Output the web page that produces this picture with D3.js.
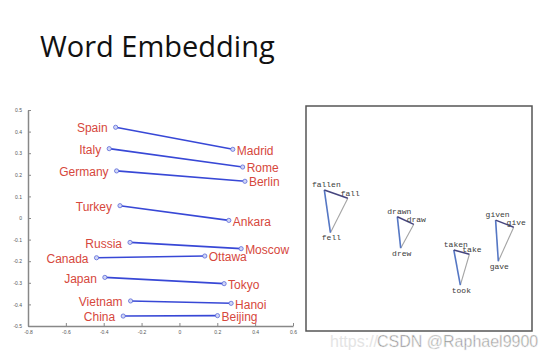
<!DOCTYPE html>
<html>
<head>
<meta charset="utf-8">
<script src="https://cdn.jsdelivr.net/npm/d3@7"></script>
<style>
  body { margin: 0; background: #fff; }
  svg { display: block; }
  .tick text { fill: #555; font-family: "Liberation Sans", Arial, sans-serif; }
</style>
</head>
<body>
<svg id="chart"></svg>
<script>
// country -> capital (left panel)
var countries = ["Spain", "Italy", "Germany", "Turkey", "Russia", "Canada", "Japan", "Vietnam", "China"];
var countryX = [-0.337, -0.371, -0.332, -0.314, -0.261, -0.438, -0.394, -0.258, -0.297];
var countryY = [0.420, 0.321, 0.218, 0.057, -0.113, -0.184, -0.275, -0.384, -0.454];
var capitals = ["Madrid", "Rome", "Berlin", "Ankara", "Moscow", "Ottawa", "Tokyo", "Hanoi", "Beijing"];
var capitalX = [0.282, 0.334, 0.346, 0.261, 0.326, 0.134, 0.236, 0.273, 0.201];
var capitalY = [0.318, 0.236, 0.170, -0.011, -0.142, -0.176, -0.304, -0.395, -0.452];

var xTicks = [-0.8, -0.6, -0.4, -0.2, 0, 0.2, 0.4, 0.6];
var xTickLabels = ["-0.8", "-0.6", "-0.4", "-0.2", "0", "0.2", "0.4", "0.6"];
var yTicks = [-0.5, -0.4, -0.3, -0.2, -0.1, 0, 0.1, 0.2, 0.3, 0.4, 0.5];
var yTickLabels = ["-0.5", "-0.4", "-0.3", "-0.2", "-0.1", "0", "0.1", "0.2", "0.3", "0.4", "0.5"];

// verb tenses (right panel), coords on a 0..100 grid
var verbParticiple = ["fallen", "drawn", "taken", "given"];
var participleX = [8.1, 40.4, 65.4, 83.9];
var participleY = [62.7, 50.8, 36.0, 49.3];
var verbBase = ["fall", "draw", "take", "give"];
var baseX = [18.5, 47.7, 72.3, 91.9];
var baseY = [59.0, 47.4, 34.1, 46.1];
var verbPast = ["fell", "drew", "took", "gave"];
var pastX = [10.8, 41.9, 68.3, 85.1];
var pastY = [43.7, 36.8, 20.4, 31.0];

var width = 554, height = 358;
var svg = d3.select("#chart").attr("width", width).attr("height", height);

svg.append("text")
  .attr("x", 40).attr("y", 57)
  .style("font-family", "'Open Sans', sans-serif")
  .style("font-size", "29px")
  .style("fill", "#111")
  .text("Word Embedding");

// ---- left panel ----
var x = d3.scaleLinear().domain([-0.8, 0.6]).range([28, 293]);
var y = d3.scaleLinear().domain([-0.5, 0.5]).range([326, 110]);

var yAxis = d3.axisLeft(y)
  .tickValues(yTicks)
  .tickFormat(function(d, i) { return yTickLabels[i]; })
  .tickSizeInner(-3).tickSizeOuter(0).tickPadding(6);
var xAxis = d3.axisBottom(x)
  .tickValues(xTicks)
  .tickFormat(function(d, i) { return xTickLabels[i]; })
  .tickSizeInner(-3).tickSizeOuter(0).tickPadding(4);

var gy = svg.append("g").attr("transform", "translate(" + x(-0.8) + ",0)").call(yAxis);
var gx = svg.append("g").attr("transform", "translate(0," + y(-0.5) + ")").call(xAxis);
[gy, gx].forEach(function(g) {
  g.select(".domain").attr("stroke", "#888").attr("stroke-width", 1.5);
  g.selectAll(".tick line").attr("stroke", "#888");
  g.selectAll(".tick text").style("font-size", "5px");
});

var pairs = countries.map(function(c, i) {
  return { country: c, cx: countryX[i], cy: countryY[i],
           capital: capitals[i], kx: capitalX[i], ky: capitalY[i] };
});

svg.append("g").selectAll("line")
  .data(pairs).enter().append("line")
  .attr("x1", function(d) { return x(d.cx); })
  .attr("y1", function(d) { return y(d.cy); })
  .attr("x2", function(d) { return x(d.kx); })
  .attr("y2", function(d) { return y(d.ky); })
  .attr("stroke", "#3848d6")
  .attr("stroke-width", 1.6);

var dots = svg.append("g");
dots.selectAll("circle.c").data(pairs).enter().append("circle")
  .attr("cx", function(d) { return x(d.cx); })
  .attr("cy", function(d) { return y(d.cy); });
dots.selectAll("circle.k").data(pairs).enter().append("circle")
  .attr("cx", function(d) { return x(d.kx); })
  .attr("cy", function(d) { return y(d.ky); });
dots.selectAll("circle")
  .attr("r", 2.1)
  .attr("fill", "#d0d6f6")
  .attr("stroke", "#5a68d8")
  .attr("stroke-width", 0.8);

var labels = svg.append("g")
  .style("font-family", "'Liberation Sans', Arial, sans-serif")
  .style("font-size", "12px")
  .style("fill", "#d6473c");
labels.selectAll("text.c").data(pairs).enter().append("text")
  .attr("x", function(d) { return x(d.cx) - 8; })
  .attr("y", function(d) { return y(d.cy) + 1; })
  .attr("dy", "0.35em")
  .attr("text-anchor", "end")
  .text(function(d) { return d.country; });
labels.selectAll("text.k").data(pairs).enter().append("text")
  .attr("x", function(d) { return x(d.kx) + 4; })
  .attr("y", function(d) { return y(d.ky) + 1; })
  .attr("dy", "0.35em")
  .text(function(d) { return d.capital; });

// ---- right panel ----
var rx = d3.scaleLinear().domain([0, 100]).range([306, 532]);
var ry = d3.scaleLinear().domain([0, 100]).range([331, 106]);

svg.append("rect")
  .attr("x", rx(0)).attr("y", ry(100))
  .attr("width", rx(100) - rx(0)).attr("height", ry(0) - ry(100))
  .attr("fill", "none").attr("stroke", "#555").attr("stroke-width", 1.5);

var verbs = verbBase.map(function(b, i) {
  return {
    en: verbParticiple[i], ex: participleX[i], ey: participleY[i],
    b: b, bx: baseX[i], by: baseY[i],
    p: verbPast[i], px: pastX[i], py: pastY[i]
  };
});

var tri = svg.append("g").selectAll("g").data(verbs).enter().append("g");
tri.append("line")
  .attr("x1", function(d) { return rx(d.bx); }).attr("y1", function(d) { return ry(d.by); })
  .attr("x2", function(d) { return rx(d.px); }).attr("y2", function(d) { return ry(d.py); })
  .attr("stroke", "#a4a4a4").attr("stroke-width", 1.1);
tri.append("line")
  .attr("x1", function(d) { return rx(d.ex); }).attr("y1", function(d) { return ry(d.ey); })
  .attr("x2", function(d) { return rx(d.px); }).attr("y2", function(d) { return ry(d.py); })
  .attr("stroke", "#5577c4").attr("stroke-width", 1.6);
tri.append("line")
  .attr("x1", function(d) { return rx(d.ex); }).attr("y1", function(d) { return ry(d.ey); })
  .attr("x2", function(d) { return rx(d.bx); }).attr("y2", function(d) { return ry(d.by); })
  .attr("stroke", "#45457e").attr("stroke-width", 1.5);

var words = svg.append("g")
  .style("font-family", "'Liberation Mono', 'DejaVu Sans Mono', monospace")
  .style("font-size", "8px")
  .style("fill", "#3a3a3a")
  .attr("text-anchor", "middle");
words.selectAll("text.en").data(verbs).enter().append("text")
  .attr("x", function(d) { return rx(d.ex) + 2; })
  .attr("y", function(d) { return ry(d.ey) - 3; })
  .text(function(d) { return d.en; });
words.selectAll("text.b").data(verbs).enter().append("text")
  .attr("x", function(d) { return rx(d.bx) + 2.5; })
  .attr("y", function(d) { return ry(d.by) - 2.3; })
  .text(function(d) { return d.b; });
words.selectAll("text.p").data(verbs).enter().append("text")
  .attr("x", function(d) { return rx(d.px) + 1; })
  .attr("y", function(d) { return ry(d.py) + 7.7; })
  .text(function(d) { return d.p; });

// watermark
svg.append("text")
  .attr("x", 330).attr("y", 347)
  .style("font-family", "'Liberation Sans', Arial, sans-serif")
  .style("font-size", "16px")
  .style("fill", "#e4e4e4")
  .text("https://");
svg.append("text")
  .attr("x", 377).attr("y", 347)
  .style("font-family", "'Liberation Sans', Arial, sans-serif")
  .style("font-size", "16px")
  .style("fill", "#8c8c8c")
  .style("stroke", "#f2f2f2")
  .style("stroke-width", 0.6)
  .text("CSDN @Raphael9900");
</script>
</body>
</html>
